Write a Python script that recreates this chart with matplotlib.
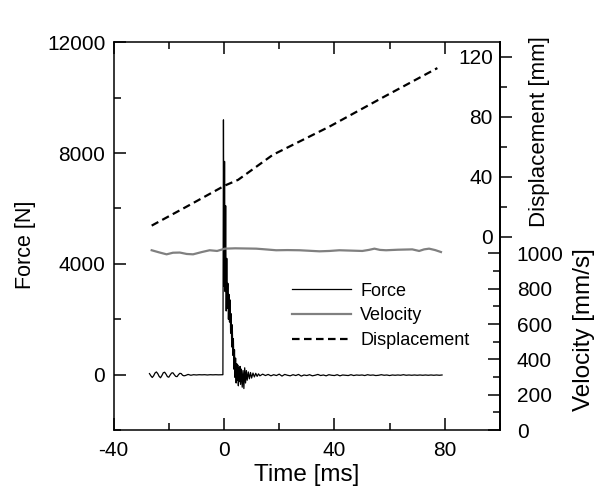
import matplotlib
matplotlib.use('Agg')
import matplotlib.pyplot as plt
from matplotlib.ticker import FixedLocator

plt.rcParams['font.family'] = ['Liberation Sans', 'DejaVu Sans']
plt.rcParams['axes.unicode_minus'] = False

# force trace [ms], [N]
force_t = [-27.0, -26.5, -26.0, -25.5, -25.0, -24.5, -24.0, -23.5, -23.0, -22.5,
           -22.0, -21.5, -21.0, -20.5, -20.0, -19.5, -19.0, -18.5, -18.0, -17.5,
           -17.0, -16.5, -16.0, -15.5, -15.0, -14.5, -14.0, -13.0, -12.0, -11.0,
           -10.0, -9.0, -8.0, -7.0, -6.0, -5.0, -4.0, -3.0, -2.0, -1.0, -0.4,
           -0.2, 0.0, 0.2, 0.4, 0.6, 0.8, 1.0, 1.2, 1.4, 1.6, 1.8, 2.0, 2.2, 2.4,
           2.6, 2.8, 3.0, 3.2, 3.4, 3.6, 3.8, 4.0, 4.2, 4.4, 4.6, 4.8, 5.0, 5.2,
           5.4, 5.6, 5.8, 6.0, 6.3, 6.6, 6.9, 7.2, 7.5, 7.8, 8.1, 8.4, 8.8, 9.2,
           9.6, 10.0, 10.5, 11.0, 11.5, 12.0, 12.5, 13.0, 14.0, 15.0,
           16, 17, 18, 19, 20, 21, 22, 23, 24, 25, 26, 27, 28, 29, 30, 31, 32,
           33, 34, 35, 36, 37, 38, 39, 40, 41, 42, 43, 44, 45, 46, 47, 48, 49,
           50, 51, 52, 53, 54, 55, 56, 57, 58, 59, 60, 61, 62, 63, 64, 65, 66,
           67, 68, 69, 70, 71, 72, 73, 74, 75, 76, 77, 78, 79]
force_n = [40, -40, -100, -40, 60, 100, 40, -60, -110, -30,
           70, 90, 20, -70, -90, -10, 60, 70, 0, -60,
           -70, 0, 50, 40, -20, -40, -30, 10, -20, 0,
           -10, 0, -5, 0, -10, 0, -5, 0, -5, 0, 0,
           9200, 3200, 7700, 3000, 6100, 2300, 4200, 2400, 3300, 2000, 2900, 1900, 2700, 1500,
           2200, 1000, 1800, 700, 1300, 200, 900, -100, 600, -300, 400, -200, 350, -400,
           250, -250, 300, -350, 200, -450, 150, -500, 250, -300, 150, -200, 100, -150,
           80, -120, 60, -80, 50, -60, 30, -40, 20, -30,
           10, -40, 0, -30, 20, -50, 10, -20, -40, 0, -30, 10, -50, -10, -30, 0, -40,
           -20, 10, -30, -10, -40, 0, -20, -30, 0, -40, -10, -20, -30, 0, -30, -10,
           -20, -10, -30, 0, -20, -10, -30, -20, 0, -20, -10, -30, -10, -20, -10,
           -20, 0, -20, -10, -20, -10, -20, -10, -20, -10, -20, -10, -20, -10, -20, -10]

# velocity [mm/s]
vel_t = [-26.2, -23.5, -20.8, -18.5, -16.0, -13.5, -11.2, -8.0, -5.2, -2.5, 0.3,
         4.0, 8.0, 11.7, 15.0, 18.9, 23.0, 27.4, 31.0, 34.6, 38.2, 41.8, 46.0,
         50.1, 52.5, 54.5, 56.5, 58.7, 63.0, 68.2, 70.7, 72.5, 74.3, 76.5, 78.6]
vel_mm_s = [1017, 1005, 994, 1003, 1004, 996, 994, 1007, 1017, 1013, 1026,
            1028, 1027, 1026, 1022, 1017, 1018, 1017, 1014, 1011, 1013, 1017, 1015,
            1013, 1019, 1026, 1019, 1017, 1020, 1022, 1013, 1022, 1026, 1018, 1007]

# displacement [mm]
disp_t = [-26.2, -13.0, 0.3, 5.1, 17.7, 38.2, 58.0, 77.3]
disp_mm = [7.3, 20.5, 34.0, 37.8, 54.5, 73.3, 93.2, 112.3]

x_ticks = [-40, 0, 40, 80]
force_ticks = [0, 4000, 8000, 12000]
vel_ticks = [0, 200, 400, 600, 800, 1000]
disp_ticks = [0, 40, 80, 120]

fig = plt.figure(figsize=(6.01, 4.86), dpi=100)
ax = fig.add_axes([0.189, 0.115, 0.643, 0.798])
ax_v = ax.twinx()
ax_d = ax.twinx()

tick_kw = dict(direction='in', length=8.6, width=1.1, labelsize=15)
minor_kw = dict(direction='in', length=5.0, width=1.1)

l_force, = ax.plot(force_t, force_n, color='black', lw=0.9)
ax.set_xlim(-40, 100)
ax.set_ylim(-2000, 12000)
ax.xaxis.set_major_locator(FixedLocator(x_ticks))
ax.xaxis.set_minor_locator(FixedLocator([-20, 20, 60, 100]))
ax.yaxis.set_major_locator(FixedLocator(force_ticks))
ax.yaxis.set_minor_locator(FixedLocator([-2000, 2000, 6000, 10000]))
ax.tick_params(axis='both', which='major', top=True, right=False, **tick_kw)
ax.tick_params(axis='both', which='minor', top=True, right=False, **minor_kw)
ax.tick_params(axis='x', pad=8)
ax.tick_params(axis='y', pad=6)
ax.set_xlabel('Time [ms]', fontsize=17.5, labelpad=3)
ax.set_ylabel('Force [N]', fontsize=15.5)
ax.yaxis.set_label_coords(-0.2, 0.477)
for s in ax.spines.values():
  s.set_linewidth(1.1)

l_vel, = ax_v.plot(vel_t, vel_mm_s, color='#808080', lw=1.6)
ax_v.set_ylim(0, 2193)
ax_v.yaxis.set_major_locator(FixedLocator(vel_ticks))
ax_v.yaxis.set_minor_locator(FixedLocator([100, 300, 500, 700, 900]))
ax_v.tick_params(axis='y', which='major', **tick_kw)
ax_v.tick_params(axis='y', which='minor', **minor_kw)
ax_v.tick_params(axis='y', pad=12)
ax_v.set_ylabel('Velocity [mm/s]', fontsize=17.5)
ax_v.yaxis.set_label_coords(1.19, 0.258)

l_disp, = ax_d.plot(disp_t, disp_mm, color='black', lw=1.6, linestyle=(0, (3.4, 2.0)))
ax_d.set_ylim(-129, 129.5)
ax_d.yaxis.set_major_locator(FixedLocator(disp_ticks))
ax_d.yaxis.set_minor_locator(FixedLocator([20, 60, 100]))
ax_d.tick_params(axis='y', which='major', direction='out', length=8.6, width=1.1,
                 labelsize=15, pad=-13.8)
ax_d.tick_params(axis='y', which='minor', direction='out', length=5.0, width=1.1)
for lab in ax_d.get_yticklabels():
  lab.set_horizontalalignment('right')
ax_d.set_ylabel('Displacement [mm]', fontsize=16)
ax_d.yaxis.set_label_coords(1.075, 0.77)

for a in (ax_v, ax_d):
  for name, s in a.spines.items():
    s.set_visible(name == 'right')
    s.set_linewidth(1.1)

ax.legend([l_force, l_vel, l_disp], ['Force', 'Velocity', 'Displacement'],
          loc='upper left', bbox_to_anchor=(0.461, 0.38), bbox_transform=ax.transAxes,
          frameon=False, fontsize=13, handlelength=3.3, handletextpad=0.5,
          labelspacing=0.42, borderpad=0, borderaxespad=0)

fig.savefig('out.png', dpi=100)
